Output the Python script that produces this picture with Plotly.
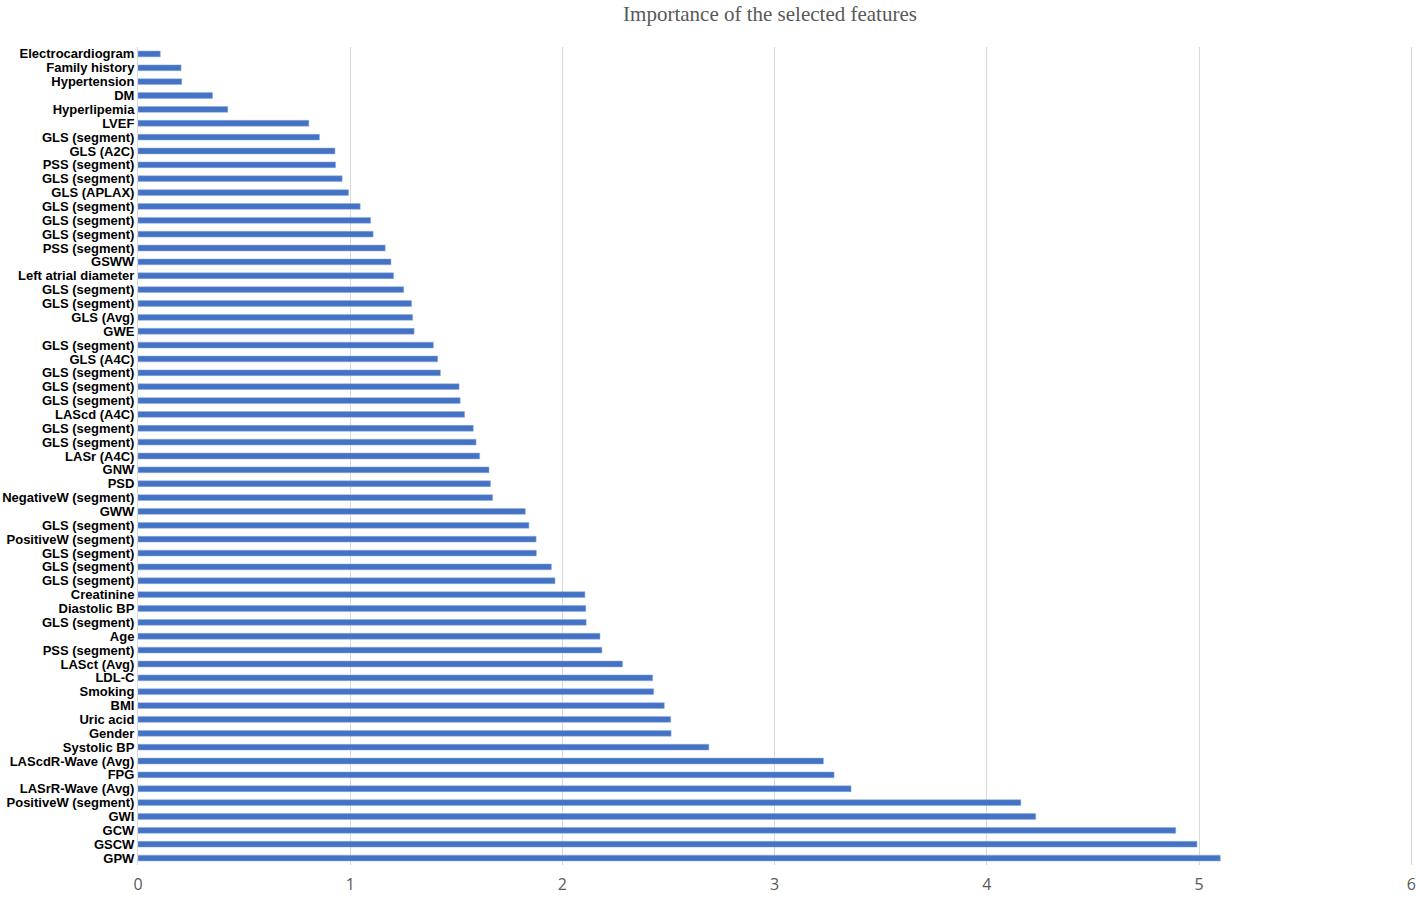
import plotly.graph_objects as go

features = [
    "Electrocardiogram", "Family history", "Hypertension", "DM", "Hyperlipemia",
    "LVEF", "GLS (segment)", "GLS (A2C)", "PSS (segment)", "GLS (segment)",
    "GLS (APLAX)", "GLS (segment)", "GLS (segment)", "GLS (segment)", "PSS (segment)",
    "GSWW", "Left atrial diameter", "GLS (segment)", "GLS (segment)", "GLS (Avg)",
    "GWE", "GLS (segment)", "GLS (A4C)", "GLS (segment)", "GLS (segment)",
    "GLS (segment)", "LAScd (A4C)", "GLS (segment)", "GLS (segment)", "LASr (A4C)",
    "GNW", "PSD", "NegativeW (segment)", "GWW", "GLS (segment)",
    "PositiveW (segment)", "GLS (segment)", "GLS (segment)", "GLS (segment)", "Creatinine",
    "Diastolic BP", "GLS (segment)", "Age", "PSS (segment)", "LASct (Avg)",
    "LDL-C", "Smoking", "BMI", "Uric acid", "Gender",
    "Systolic BP", "LAScdR-Wave (Avg)", "FPG", "LASrR-Wave (Avg)", "PositiveW (segment)",
    "GWI", "GCW", "GSCW", "GPW",
]

importance = [
    0.105, 0.203, 0.206, 0.351, 0.423,
    0.805, 0.855, 0.928, 0.931, 0.962,
    0.992, 1.047, 1.096, 1.108, 1.165,
    1.192, 1.204, 1.252, 1.289, 1.294,
    1.301, 1.392, 1.412, 1.425, 1.513,
    1.518, 1.539, 1.580, 1.593, 1.610,
    1.654, 1.661, 1.671, 1.825, 1.842,
    1.876, 1.877, 1.948, 1.965, 2.106,
    2.110, 2.112, 2.177, 2.186, 2.283,
    2.425, 2.430, 2.480, 2.510, 2.512,
    2.690, 3.230, 3.280, 3.360, 4.160,
    4.230, 4.890, 4.990, 5.100,
]

x_ticks = [0, 1, 2, 3, 4, 5, 6]

positions = list(range(len(features)))

fig = go.Figure(
    go.Bar(
        x=importance,
        y=positions,
        orientation="h",
        width=0.42,
        marker=dict(color="#4472C4", line=dict(color="#8FAADC", width=0.5)),
        hoverinfo="x",
    )
)

fig.update_layout(
    width=1416,
    height=898,
    paper_bgcolor="white",
    plot_bgcolor="white",
    margin=dict(l=138, r=3, t=47, b=33),
    showlegend=False,
    title=dict(
        text="Importance of the selected features",
        font=dict(family="Liberation Serif, Times New Roman, serif", size=21, color="#595959"),
        x=0.5438,
        xanchor="center",
        y=0.985,
        yanchor="middle",
        yref="container",
    ),
)

fig.update_xaxes(
    range=[0, 6.008],
    tickvals=x_ticks,
    ticktext=[str(t) for t in x_ticks],
    showgrid=True,
    gridcolor="#D9D9D9",
    gridwidth=1,
    zeroline=False,
    showline=False,
    tickfont=dict(family="Open Sans, Liberation Sans, sans-serif", size=16, color="#595959"),
    ticks="",
    ticklabelstandoff=8,
    automargin=False,
)

fig.update_yaxes(
    range=[len(features) - 0.5, -0.5],
    tickmode="array",
    tickvals=positions,
    ticktext=features,
    showgrid=False,
    zeroline=False,
    showline=True,
    linecolor="#D9D9D9",
    linewidth=1,
    ticks="",
    tickfont=dict(family="Liberation Sans, Arial, sans-serif", size=13, color="#000000", weight="bold"),
    automargin=False,
)

fig.write_html(
    "out.html",
    config={"displayModeBar": False},
    post_script="document.body.style.margin='0';",
)
